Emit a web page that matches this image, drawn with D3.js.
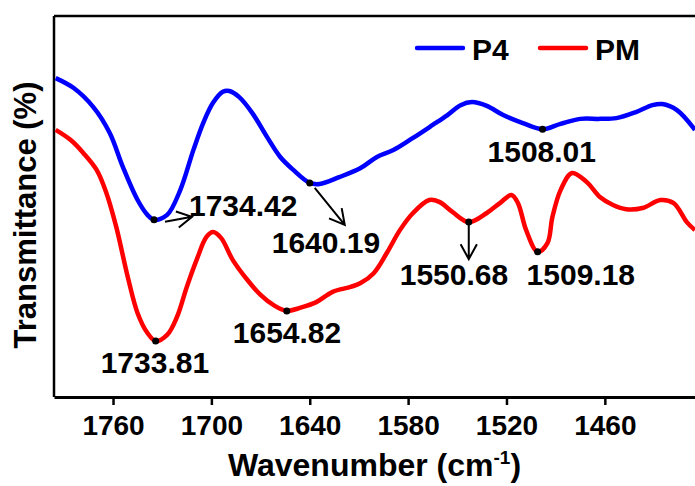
<!DOCTYPE html>
<meta charset="utf-8">
<script src="https://d3js.org/d3.v7.min.js"></script>
<style>
  body { margin: 0; background: #fff; }
  text { font-family: "Liberation Sans", Arial, sans-serif; font-weight: bold; fill: #000; }
</style>
<div id="my_dataviz"></div>
<script>

// wavenumber (cm-1) and transmittance (arbitrary, %)
var p4Wave = [1795, 1784, 1772, 1762, 1754, 1745, 1739, 1735, 1727, 1719, 1711, 1705, 1699, 1693,
  1689, 1683, 1675, 1666, 1658, 1650, 1640, 1634, 1622, 1609, 1599, 1589, 1577, 1565, 1556, 1548,
  1541, 1532, 1522, 1510, 1498, 1487, 1475, 1463, 1453, 1441, 1431, 1425, 1416, 1405];
var p4Trans = [83.7, 81.1, 76.1, 69.3, 60.4, 51.7, 47.8, 46.5, 47.8, 54.3, 64.8, 71.9, 77.2, 80.1,
  80.3, 78.7, 74.5, 68.2, 63.0, 59.6, 56.2, 55.9, 57.7, 60.1, 63.0, 64.8, 68.0, 71.4, 74.0, 76.6,
  77.4, 76.4, 74.0, 71.9, 70.3, 71.7, 73.0, 73.0, 73.2, 74.8, 76.6, 76.9, 75.3, 70.1];

var pmWave = [1795, 1786, 1778, 1770, 1764, 1758, 1751, 1745, 1739, 1734, 1727, 1721, 1715, 1709,
  1703, 1699, 1694, 1687, 1678, 1670, 1662, 1654, 1646, 1636, 1626, 1615, 1609, 1601, 1593, 1585,
  1577, 1567, 1561, 1553, 1543, 1532, 1524, 1517, 1513, 1508, 1501, 1495, 1492, 1487, 1480, 1471,
  1463, 1455, 1447, 1437, 1426, 1418, 1410, 1405];
var pmTrans = [70.1, 67.5, 64.0, 59.6, 53.5, 44.6, 31.5, 22.0, 16.8, 14.7, 16.3, 21.0, 28.9, 36.0,
  42.0, 43.3, 41.7, 36.0, 30.7, 26.8, 24.1, 22.6, 23.4, 24.9, 27.6, 28.9, 29.9, 32.5, 37.8, 43.8,
  48.3, 51.7, 51.2, 48.6, 45.9, 48.3, 50.9, 53.0, 50.9, 43.8, 38.1, 40.4, 47.2, 54.3, 58.8, 56.4,
  52.5, 50.4, 49.3, 49.6, 51.7, 50.9, 45.9, 43.8];

var seriesNames = ["P4", "PM"];
var seriesColors = ["#0000ff", "#ff0000"];
var xTicks = [1760, 1700, 1640, 1580, 1520, 1460];

// marked bands: series, position on the curve, printed label
var markSeries = ["P4", "P4", "P4", "PM", "PM", "PM", "PM"];
var markWave = [1735, 1640, 1498, 1734, 1654, 1543, 1501];
var markLabel = ["1734.42", "1640.19", "1508.01", "1733.81", "1654.82", "1550.68", "1509.18"];

var W = 695, H = 486;
var margin = {top: 16, right: 0, bottom: 89, left: 54},
    width = W - margin.left - margin.right,
    height = H - margin.top - margin.bottom;

var svg = d3.select("#my_dataviz")
  .append("svg")
    .attr("width", W)
    .attr("height", H);

var g = svg.append("g")
    .attr("transform", "translate(" + margin.left + "," + margin.top + ")");

var x = d3.scaleLinear().domain([1796, 1405]).range([0, width]);
var y = d3.scaleLinear().domain([0, 100]).range([height, 0]);

svg.append("defs").append("clipPath").attr("id", "clip")
  .append("rect").attr("width", width).attr("height", height);

// frame: top and left lines
g.append("line").attr("x1", 0).attr("x2", width).attr("y1", 0).attr("y2", 0)
  .attr("stroke", "#000").attr("stroke-width", 2.5);
g.append("line").attr("x1", 0).attr("x2", 0).attr("y1", 0).attr("y2", height)
  .attr("stroke", "#000").attr("stroke-width", 2.5);

// X axis
var xAxis = g.append("g")
  .attr("transform", "translate(0," + height + ")")
  .call(d3.axisBottom(x).tickValues(xTicks).tickFormat(d3.format("d"))
    .tickSize(8).tickSizeOuter(0).tickPadding(10));
xAxis.select(".domain").attr("stroke-width", 3);
xAxis.selectAll(".tick line").attr("stroke-width", 2.5);
xAxis.selectAll(".tick text").attr("font-size", 28)
  .style("font-family", "'Liberation Sans', Arial, sans-serif").style("font-weight", "bold");

// axis titles
var xt = svg.append("text")
  .attr("x", margin.left + width / 2).attr("y", 476)
  .attr("text-anchor", "middle").attr("font-size", 32);
xt.append("tspan").text("Wavenumber (cm");
xt.append("tspan").attr("font-size", 19).attr("dy", -12).text("-1");
xt.append("tspan").attr("dy", 12).text(")");

svg.append("text")
  .attr("transform", "translate(36," + 215 + ")rotate(-90)")
  .attr("text-anchor", "middle").attr("font-size", 31)
  .text("Transmittance (%)");

// lines
var line = d3.line()
  .x(function(d) { return x(d[0]); })
  .y(function(d) { return y(d[1]); })
  .curve(d3.curveCatmullRom.alpha(0.5));

var seriesData = {
  "P4": d3.zip(p4Wave, p4Trans),
  "PM": d3.zip(pmWave, pmTrans)
};

var plot = g.append("g").attr("clip-path", "url(#clip)");
seriesNames.forEach(function(name, i) {
  plot.append("path")
    .datum(seriesData[name])
    .attr("fill", "none")
    .attr("stroke", seriesColors[i])
    .attr("stroke-width", 4.5)
    .attr("stroke-linejoin", "round")
    .attr("d", line);
});

// legend
var legendX = [363, 486], legendY = 32;
seriesNames.forEach(function(name, i) {
  g.append("line")
    .attr("x1", legendX[i]).attr("x2", legendX[i] + 46)
    .attr("y1", legendY).attr("y2", legendY)
    .attr("stroke", seriesColors[i]).attr("stroke-width", 4.5)
    .attr("stroke-linecap", "round");
  g.append("text")
    .attr("x", legendX[i] + 55).attr("y", legendY + 12)
    .attr("font-size", 30)
    .text(name);
});

// markers and labels
function yAt(name, w) {
  var d = seriesData[name];
  var best = d[0];
  d.forEach(function(p) { if (Math.abs(p[0] - w) < Math.abs(best[0] - w)) best = p; });
  return best[1];
}

// label offsets (dx = text start, dy = baseline) relative to the marker
var labelOffset = [[35, -4], [-38, 70], [-55, 33], [-55, 32], [-54, 32], [-69, 63], [-11, 33]];

markWave.forEach(function(w, i) {
  var cx = x(w), cy = y(yAt(markSeries[i], w));
  g.append("circle").attr("cx", cx).attr("cy", cy).attr("r", 3.5).attr("fill", "#000");
  g.append("text")
    .attr("x", cx + labelOffset[i][0]).attr("y", cy + labelOffset[i][1])
    .attr("font-size", 30)
    .text(markLabel[i]);
});

// arrows
function arrow(x1, y1, x2, y2) {
  var a = Math.atan2(y2 - y1, x2 - x1), len = 17, spread = 0.5;
  var p = d3.path();
  p.moveTo(x1, y1); p.lineTo(x2, y2);
  p.moveTo(x2 - len * Math.cos(a - spread), y2 - len * Math.sin(a - spread));
  p.lineTo(x2, y2);
  p.lineTo(x2 - len * Math.cos(a + spread), y2 - len * Math.sin(a + spread));
  g.append("path").attr("d", p.toString())
    .attr("fill", "none").attr("stroke", "#000").attr("stroke-width", 2);
}
var m0 = [x(markWave[0]), y(yAt("P4", markWave[0]))];
arrow(m0[0] + 11, m0[1] + 2, m0[0] + 38, m0[1] - 3);
var m1 = [x(markWave[1]), y(yAt("P4", markWave[1]))];
arrow(m1[0] + 5, m1[1] + 5, m1[0] + 35, m1[1] + 42);
var m5 = [x(markWave[5]), y(yAt("PM", markWave[5]))];
arrow(m5[0], m5[1] + 3, m5[0], m5[1] + 37);

</script>
